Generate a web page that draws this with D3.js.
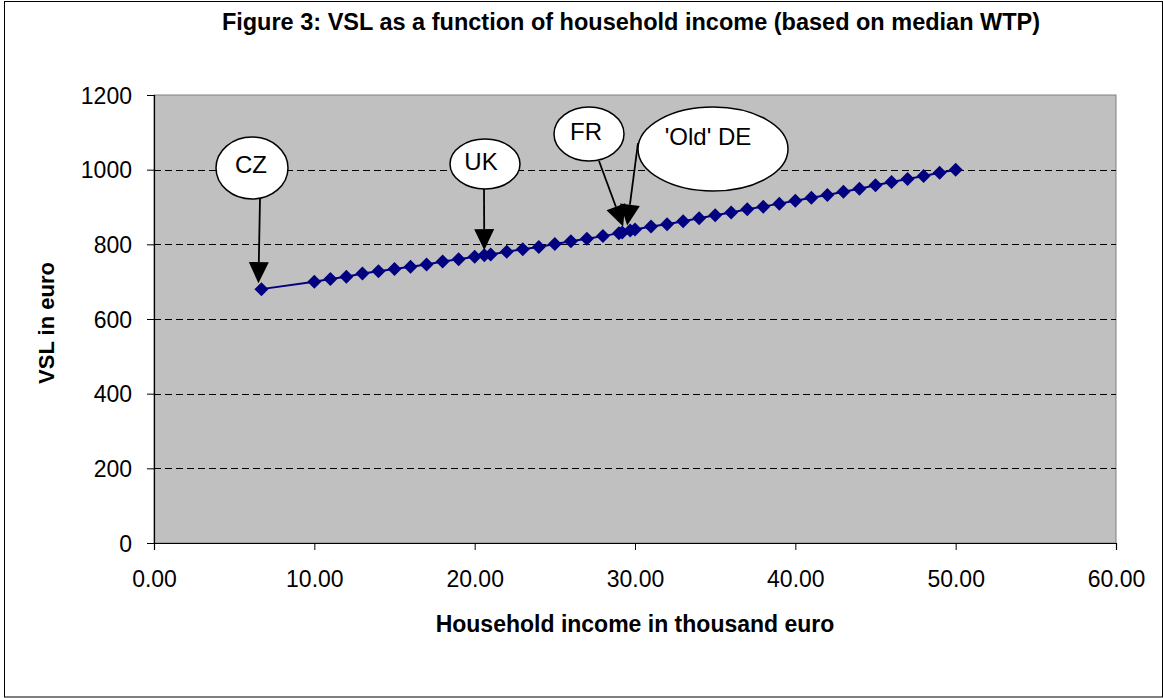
<!DOCTYPE html>
<html>
<head>
<meta charset="utf-8">
<script src="https://cdn.jsdelivr.net/npm/d3@7/dist/d3.min.js"></script>
<style>
  html, body { margin: 0; padding: 0; background: #ffffff; }
  svg { display: block; }
  text { font-family: Arial, "Liberation Sans", sans-serif; fill: #000; }
</style>
</head>
<body>
<svg id="chart" width="1163" height="698"></svg>
<script>
// Household income (thousand euro) and the VSL (euro) for each income level
const income = [6.7, 10, 11, 12, 13, 14, 15, 16, 17, 18, 19, 20, 20.6, 21, 22, 23, 24, 25, 26, 27, 28, 29, 29.2, 29.7,
                30, 31, 32, 33, 34, 35, 36, 37, 38, 39, 40, 41, 42, 43, 44, 45, 46, 47, 48, 49, 50];
const vsl = [680, 700, 707, 713, 722, 728, 734, 740, 746, 754, 760, 767, 771, 773, 780, 787, 793, 801, 808, 815, 822, 830, 832, 837,
             840, 848, 854, 862, 870, 878, 885, 894, 901, 909, 917, 925, 932, 941, 949, 958, 967, 975, 983, 992, 1000];

// Countries marked with callouts and the data point each one refers to
const countries = ["CZ", "UK", "FR", "'Old' DE"];
const countryIncome = [6.7, 20.6, 29.2, 29.7];

const xTicks = [0, 10, 20, 30, 40, 50, 60];
const yTicks = [0, 200, 400, 600, 800, 1000, 1200];

const titleText = "Figure 3: VSL as a function of household income (based on median WTP)";
const xTitle = "Household income in thousand euro";
const yTitle = "VSL in euro";

const svg = d3.select("#chart");
const W = 1163, H = 698;
const plot = { left: 154, top: 95, right: 1116, bottom: 543 };

// Outer frame
svg.append("rect")
  .attr("x", 4.5).attr("y", 1.5).attr("width", W - 5).attr("height", H - 2.5)
  .attr("fill", "#fff").attr("stroke", "#000").attr("stroke-width", 1);

const x = d3.scaleLinear().domain([0, 60]).range([plot.left, plot.right]);
const y = d3.scaleLinear().domain([0, 1200]).range([plot.bottom, plot.top]);

// Plot area background
svg.append("rect")
  .attr("x", plot.left).attr("y", plot.top)
  .attr("width", plot.right - plot.left).attr("height", plot.bottom - plot.top)
  .attr("fill", "#c0c0c0").attr("stroke", "#808080").attr("stroke-width", 1);

// Dashed horizontal gridlines
svg.append("g")
  .selectAll("line")
  .data(yTicks.filter(v => v > 0 && v < 1200))
  .join("line")
  .attr("x1", plot.left).attr("x2", plot.right)
  .attr("y1", d => Math.round(y(d)) + 0.5).attr("y2", d => Math.round(y(d)) + 0.5)
  .attr("stroke", "#000").attr("stroke-width", 1).attr("stroke-dasharray", "7,4");

// Axes
const xAxis = svg.append("g")
  .attr("transform", `translate(0,${plot.bottom})`)
  .call(d3.axisBottom(x).tickValues(xTicks).tickFormat(d3.format(".2f")).tickSize(7).tickPadding(20));
const yAxis = svg.append("g")
  .attr("transform", `translate(${plot.left},0)`)
  .call(d3.axisLeft(y).tickValues(yTicks).tickFormat(d3.format("d")).tickSize(7).tickPadding(15));

[xAxis, yAxis].forEach(a => {
  a.select(".domain").attr("stroke", "#000").attr("stroke-width", 1.2);
  a.selectAll(".tick line").attr("stroke", "#000");
  a.selectAll(".tick text")
    .attr("font-family", "Arial, 'Liberation Sans', sans-serif")
    .attr("font-size", 23).attr("fill", "#000");
});
xAxis.selectAll(".tick text").attr("dy", "0.72em");
yAxis.selectAll(".tick text").attr("dy", "0.36em");

// Series line and diamond markers
const pts = income.map((v, i) => ({ x: v, y: vsl[i] }));
svg.append("path")
  .datum(pts)
  .attr("fill", "none")
  .attr("stroke", "#000080")
  .attr("stroke-width", 2)
  .attr("d", d3.line().x(d => x(d.x)).y(d => y(d.y)));

svg.append("g")
  .selectAll("path")
  .data(pts)
  .join("path")
  .attr("transform", d => `translate(${x(d.x)},${y(d.y)})`)
  .attr("d", "M0,-7L7,0L0,7L-7,0Z")
  .attr("fill", "#000080");

// Callouts: ellipse, connector line and arrow head pointing at the data point
const calloutLayout = [
  { cx: 252, cy: 168, rx: 36, ry: 31, tx: 251, ty: 173, from: [260, 199], tipDx: -3, tipDy: -6 },
  { cx: 485, cy: 164, rx: 35, ry: 25, tx: 481, ty: 170, from: [484, 189], tipDx: 0, tipDy: -5 },
  { cx: 589, cy: 134, rx: 35, ry: 27, tx: 586, ty: 140, from: [599, 161], tipDx: 1, tipDy: -6 },
  { cx: 713, cy: 149, rx: 75, ry: 42, tx: 708, ty: 145, from: [638, 143], tipDx: -3, tipDy: -5 }
];

const callouts = svg.append("g");
countries.forEach((name, i) => {
  const L = calloutLayout[i];
  const idx = income.indexOf(countryIncome[i]);
  const px = x(income[idx]) + L.tipDx, py = y(vsl[idx]) + L.tipDy;
  const [fx, fy] = L.from;
  const dx = px - fx, dy = py - fy, len = Math.hypot(dx, dy);
  const ux = dx / len, uy = dy / len;
  const headLen = 21, headHalf = 10;
  const bx = px - ux * headLen, by = py - uy * headLen;
  callouts.append("line")
    .attr("x1", fx).attr("y1", fy).attr("x2", bx).attr("y2", by)
    .attr("stroke", "#000").attr("stroke-width", 1.8);
  callouts.append("path")
    .attr("d", `M${px},${py}L${bx - uy * headHalf},${by + ux * headHalf}L${bx + uy * headHalf},${by - ux * headHalf}Z`)
    .attr("fill", "#000");
});
countries.forEach((name, i) => {
  const L = calloutLayout[i];
  callouts.append("ellipse")
    .attr("cx", L.cx).attr("cy", L.cy).attr("rx", L.rx).attr("ry", L.ry)
    .attr("fill", "#fff").attr("stroke", "#000").attr("stroke-width", 1.5);
  callouts.append("text")
    .attr("x", L.tx).attr("y", L.ty)
    .attr("text-anchor", "middle")
    .attr("font-size", 24)
    .text(name);
});

// Titles
svg.append("text")
  .attr("x", 631).attr("y", 30)
  .attr("text-anchor", "middle")
  .attr("font-size", 23.5).attr("font-weight", "bold")
  .text(titleText);

svg.append("text")
  .attr("x", 635).attr("y", 632)
  .attr("text-anchor", "middle")
  .attr("font-size", 23).attr("font-weight", "bold")
  .text(xTitle);

svg.append("text")
  .attr("transform", `translate(54,323) rotate(-90)`)
  .attr("text-anchor", "middle")
  .attr("font-size", 22).attr("font-weight", "bold")
  .text(yTitle);
</script>
</body>
</html>
